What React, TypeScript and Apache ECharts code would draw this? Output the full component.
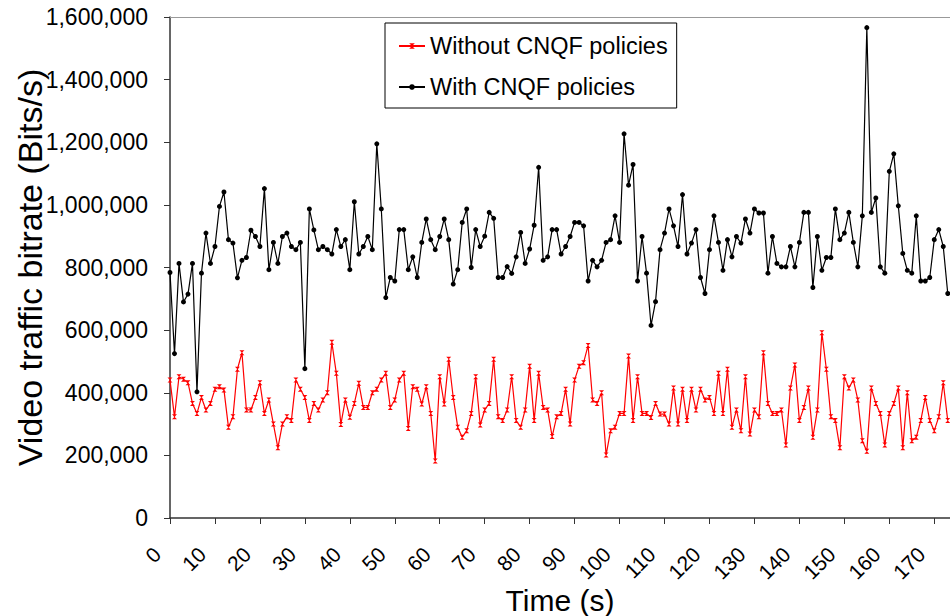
import React, { useEffect, useRef } from "react";
import * as echarts from "echarts";

// Time in seconds (one sample per second)
const withCNQF = [
  784, 525, 813, 690, 715, 813, 403, 782, 910, 813, 867, 995, 1041, 889, 878, 767, 823, 832, 919, 899,
  867, 1052, 793, 880, 813, 899, 910, 867, 857, 880, 477, 987, 920, 857, 867, 857, 843, 921, 867, 889,
  793, 1010, 843, 867, 899, 857, 1195, 987, 704, 768, 757, 921, 921, 793, 834, 768, 880, 955, 889, 857,
  899, 955, 889, 747, 793, 944, 987, 800, 921, 867, 900, 976, 957, 768, 768, 803, 781, 834, 912, 813,
  859, 935, 1120, 823, 834, 921, 921, 843, 867, 899, 944, 944, 933, 757, 823, 802, 823, 880, 889, 965,
  880, 1227, 1063, 1129, 757, 899, 782, 615, 691, 857, 910, 987, 933, 867, 1033, 843, 878, 921, 768, 717,
  857, 965, 880, 791, 889, 834, 899, 878, 955, 910, 987, 974, 974, 782, 899, 813, 802, 802, 867, 802,
  880, 976, 976, 736, 899, 791, 832, 832, 987, 889, 910, 976, 880, 802, 965, 1566, 976, 1022, 802, 782,
  1107, 1163, 997, 845, 791, 782, 965, 757, 757, 768, 889, 921, 867, 717,
];

const withoutCNQF = [
  441, 323, 451, 443, 432, 366, 334, 385, 345, 366, 411, 419, 409, 290, 323, 475, 528, 345, 345, 385,
  432, 334, 377, 300, 224, 300, 323, 311, 441, 411, 385, 311, 366, 345, 377, 400, 561, 462, 299, 377,
  322, 366, 430, 353, 353, 400, 411, 441, 462, 353, 377, 441, 462, 286, 419, 411, 364, 419, 334, 182,
  451, 364, 507, 385, 290, 258, 279, 334, 451, 297, 345, 366, 507, 323, 311, 345, 451, 311, 290, 345,
  485, 311, 462, 353, 345, 260, 323, 334, 411, 300, 441, 485, 496, 551, 377, 366, 400, 201, 279, 290,
  334, 334, 517, 311, 451, 334, 334, 321, 366, 332, 332, 300, 415, 300, 411, 311, 411, 345, 411, 377,
  385, 334, 462, 334, 475, 290, 345, 279, 451, 268, 345, 323, 528, 366, 334, 334, 345, 233, 415, 489,
  311, 353, 415, 258, 345, 592, 475, 323, 311, 224, 451, 415, 441, 377, 247, 213, 415, 366, 334, 233,
  334, 366, 415, 224, 400, 247, 258, 311, 385, 311, 279, 323, 432, 311,
];

const seriesNames = ["Without CNQF policies", "With CNQF policies"];
const xTitle = "Time (s)";
const yTitle = "Video traffic bitrate (Bits/s)";

const FONT = "'Liberation Sans', Arial, sans-serif";
const HOURGLASS = "path://M0,0 L10,0 L0,10 L10,10 Z";

export default function App() {
  const ref = useRef<HTMLDivElement>(null);

  useEffect(() => {
    if (!ref.current) return;
    const chart = echarts.init(ref.current, undefined, { renderer: "svg" });
    const toPairs = (arr: number[]) => arr.map((v, i) => [i, v * 1000]);
    const xMin = 0;
    const xMax = 173.5;

    chart.setOption({
      animation: false,
      backgroundColor: "#ffffff",
      textStyle: { fontFamily: FONT },
      grid: { left: 170, right: 0, top: 17, bottom: 98, outerBoundsMode: "none", containLabel: false },
      legend: {
        left: 385,
        top: 23,
        orient: "vertical",
        data: seriesNames,
        itemWidth: 26,
        itemHeight: 7,
        itemGap: 17,
        padding: [11, 9, 9, 13],
        borderColor: "#000",
        borderWidth: 1,
        textStyle: { fontFamily: FONT, fontSize: 23.5, color: "#000", lineHeight: 24 },
      },
      xAxis: [
        {
          type: "value",
          min: xMin,
          max: xMax,
          interval: 10,
          name: xTitle,
          nameLocation: "middle",
          nameGap: 67,
          nameMoveOverlap: false,
          nameTextStyle: { fontFamily: FONT, fontSize: 30, color: "#000" },
          axisLine: { lineStyle: { color: "#333", width: 1.5 } },
          axisTick: { length: 6, lineStyle: { color: "#333", width: 1 } },
          splitLine: { show: false },
          axisLabel: {
            rotate: 45,
            margin: 20,
            padding: [0, 18, 0, 0],
            fontFamily: FONT,
            fontSize: 21,
            color: "#000",
            showMaxLabel: false,
            formatter: (v: number) => (v % 10 === 0 ? String(v) : ""),
          },
        },
        {
          type: "value",
          position: "top",
          min: xMin,
          max: xMax,
          axisLine: { lineStyle: { color: "#999", width: 1 } },
          axisTick: { show: false },
          axisLabel: { show: false },
          splitLine: { show: false },
        },
      ],
      yAxis: {
        type: "value",
        min: 0,
        max: 1600000,
        interval: 200000,
        name: yTitle,
        nameLocation: "middle",
        nameRotate: 90,
        nameGap: 123,
        nameMoveOverlap: false,
        nameTextStyle: { fontFamily: FONT, fontSize: 34, color: "#000" },
        axisLine: { show: true, lineStyle: { color: "#333", width: 1.5 } },
        axisTick: { show: true, length: 6, lineStyle: { color: "#333", width: 1 } },
        splitLine: { show: false },
        axisLabel: {
          margin: 22,
          fontFamily: FONT,
          fontSize: 23,
          color: "#000",
          formatter: (v: number) => v.toLocaleString("en-US"),
        },
      },
      series: [
        {
          name: seriesNames[0],
          type: "line",
          data: toPairs(withoutCNQF),
          symbol: HOURGLASS,
          symbolSize: 5,
          showAllSymbol: true,
          lineStyle: { color: "#ff0000", width: 1.2 },
          itemStyle: { color: "#ff0000" },
          z: 2,
        },
        {
          name: seriesNames[1],
          type: "line",
          data: toPairs(withCNQF),
          symbol: "circle",
          symbolSize: 5,
          showAllSymbol: true,
          lineStyle: { color: "#000000", width: 1.2 },
          itemStyle: { color: "#000000" },
          z: 3,
        },
      ],
    });

    return () => chart.dispose();
  }, []);

  return (
    <div
      ref={ref}
      style={{ position: "absolute", left: 0, top: 0, width: 950, height: 616 }}
    />
  );
}
